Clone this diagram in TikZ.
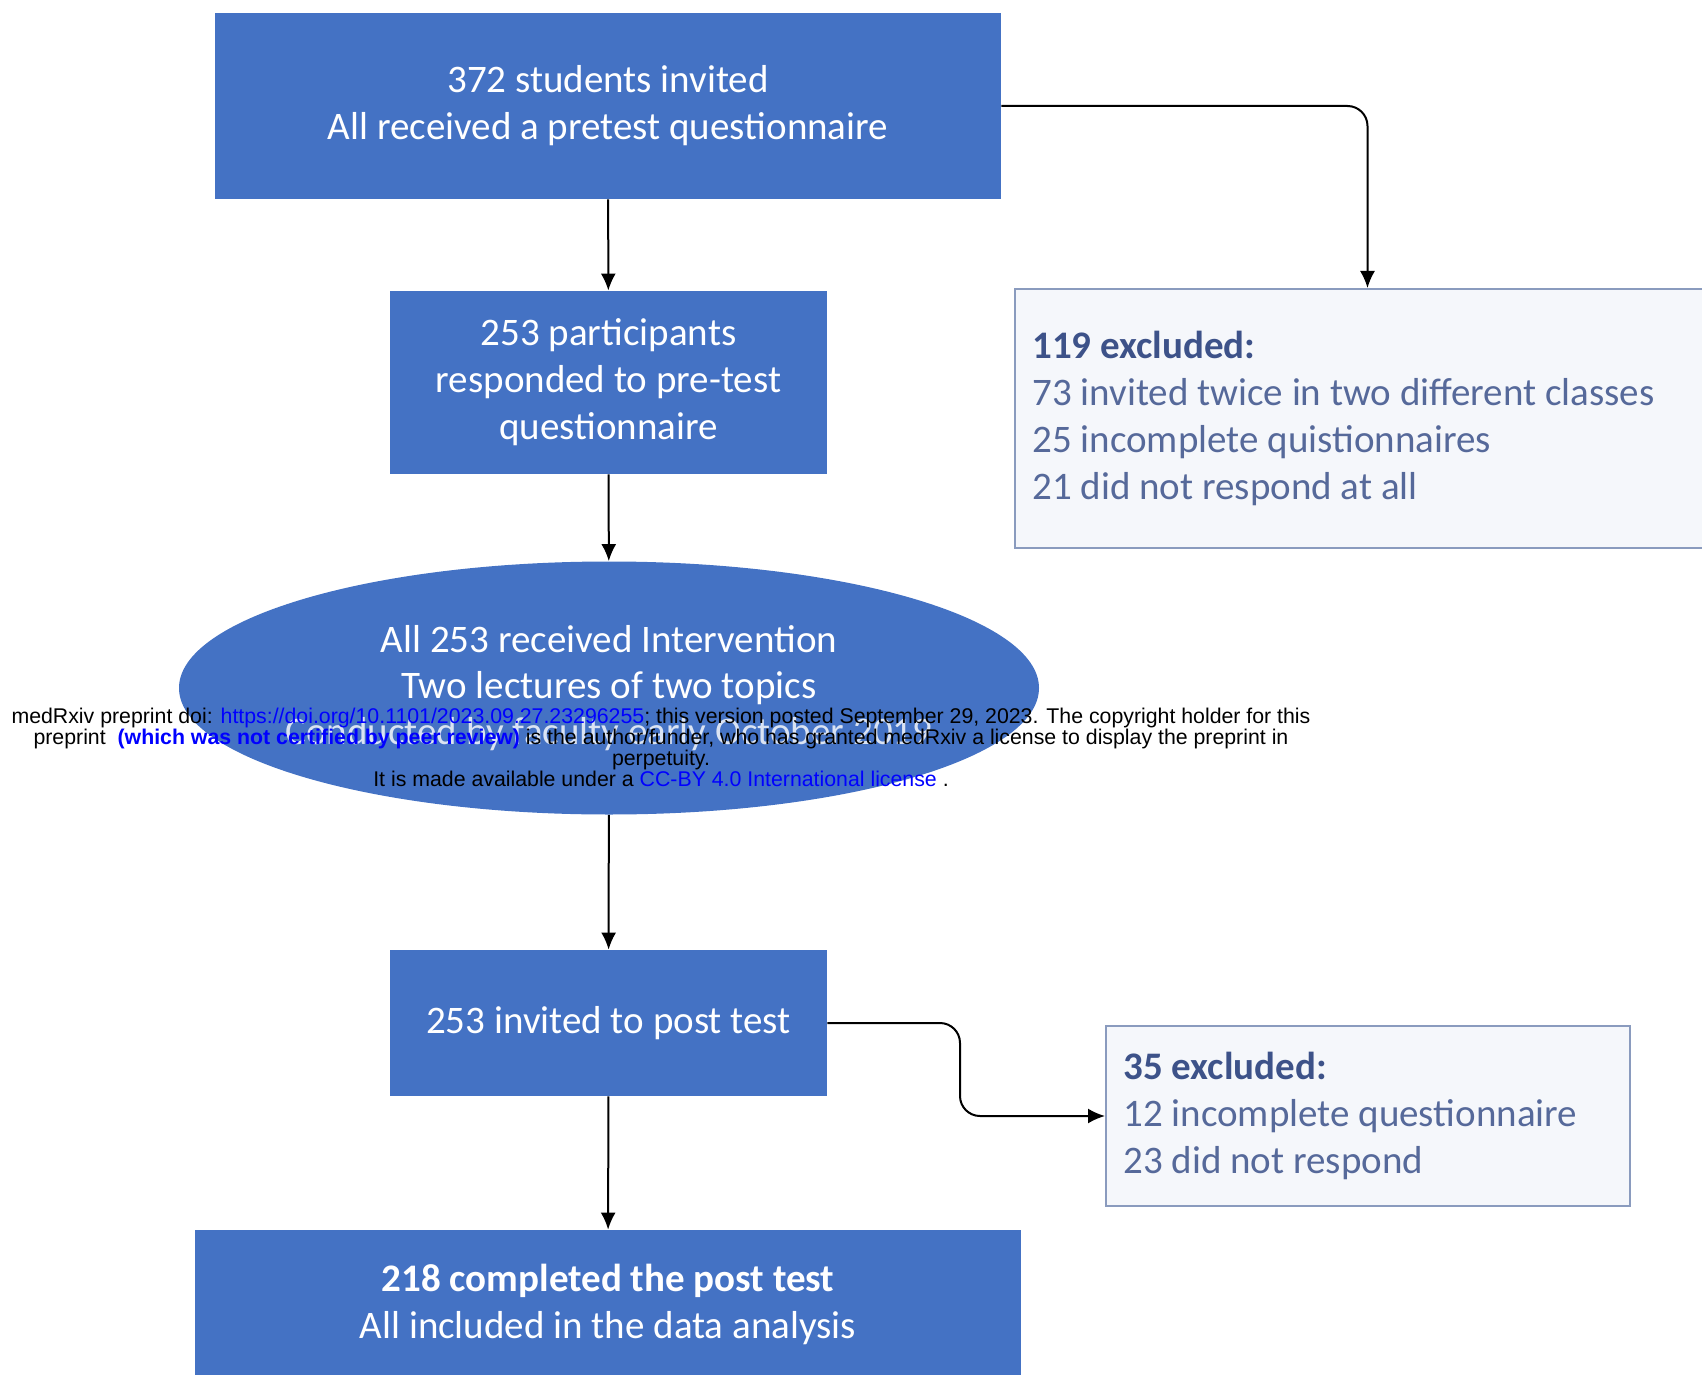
\documentclass[tikz,border=0pt]{standalone}
\usepackage{fontspec}
\setmainfont{Carlito}
\newfontfamily\wmfont{Liberation Sans}
\usetikzlibrary{arrows.meta,shapes.geometric,calc}
\definecolor{boxblue}{HTML}{4472C4}
\definecolor{exborder}{HTML}{8A9BBE}
\definecolor{exfill}{HTML}{F5F7FB}
\definecolor{extext}{HTML}{56699A}
\definecolor{exhead}{HTML}{3D5289}
\definecolor{linkblue}{HTML}{0000FF}
\tikzset{
  bluebox/.style={rectangle, fill=boxblue, draw=none, text=white, align=center, inner sep=0pt,
    font=\fontsize{19.5}{23.5}\selectfont},
  ellbox/.style={ellipse, fill=boxblue, draw=none, inner sep=0pt},
  exbox/.style={rectangle, fill=exfill, draw=exborder, line width=1pt, inner sep=0pt},
  extxt/.style={align=left, inner sep=0pt, text=extext, font=\fontsize{19.5}{23.5}\selectfont},
  wtxt/.style={align=center, inner sep=0pt, text=white, font=\fontsize{19.5}{23}\selectfont},
  conn/.style={draw=black, line width=1pt, -{Latex[length=8.5pt,width=7.5pt]}},
  wmark/.style={align=center, inner sep=0pt, text=black, font=\wmfont\fontsize{10.65}{10.5}\selectfont}
}
\begin{document}
\begin{tikzpicture}[x=0.5pt,y=-0.5pt]
\useasboundingbox (0,0) rectangle (1702,1375);
\begin{scope}
\clip (0,0) rectangle (1702,1375);
% main column
\node[bluebox, minimum width=393pt, minimum height=93pt] (top) at (608,106)
  {372 students invited\\All received a pretest questionnaire};
\node[bluebox, minimum width=218.5pt, minimum height=91.5pt] (resp) at (608.5,382.5)
  {253 participants\\responded to pre-test\\questionnaire};
\node[ellbox, minimum width=430pt, minimum height=126.5pt] (interv) at (609,688) {};
\node[wtxt] (intervtext) at (609,688)
  {All 253 received Intervention\\Two lectures of two topics\\\textcolor{white!80!boxblue}{Conducted by faculty early October 2019}};
\node[bluebox, minimum width=218.5pt, minimum height=73pt] (post) at (608.5,1023)
  {253 invited to post test};
\node[bluebox, minimum width=413pt, minimum height=74pt] (done) at (608,1304)
  {\textbf{218 completed the post test}\\All included in the data analysis};
% exclusion boxes
\node[exbox, minimum width=352.5pt, minimum height=129.5pt] (ex1) at (1367.5,418.5) {};
\node[extxt, anchor=west] (ex1text) at (1032,418)
  {\textcolor{exhead}{\textbf{119 excluded:}}\\73 invited twice in two different classes\\25 incomplete quistionnaires\\21 did not respond at all};
\node[exbox, minimum width=262pt, minimum height=90pt] (ex2) at (1368,1116) {};
\node[extxt, anchor=west] (ex2text) at (1123,1116)
  {\textcolor{exhead}{\textbf{35 excluded:}}\\12 incomplete questionnaire\\23 did not respond};
% connectors
\draw[conn] (top) -- (resp);
\draw[conn] (resp) -- (interv);
\draw[conn] (interv) -- (post);
\draw[conn] (post) -- (done);
\draw[conn, rounded corners=10pt] (top.east) -| (ex1.north);
\coordinate (bend) at (960,1070);
\draw[conn, rounded corners=10pt] (post.east) -| (bend) |- (ex2.west);
% watermark
\node[wmark] (wm) at (661,747)
  {medRxiv preprint doi: \textcolor{linkblue}{https://doi.org/10.1101/2023.09.27.23296255}; this version posted September 29, 2023. The copyright holder for this\\
   preprint \ \textcolor{linkblue}{\textbf{(which was not certified by peer review)}} is the author/funder, who has granted medRxiv a license to display the preprint in\\
   perpetuity.\\
   It is made available under a \textcolor{linkblue}{CC-BY 4.0 International license} .};
\end{scope}
\end{tikzpicture}
\end{document}
